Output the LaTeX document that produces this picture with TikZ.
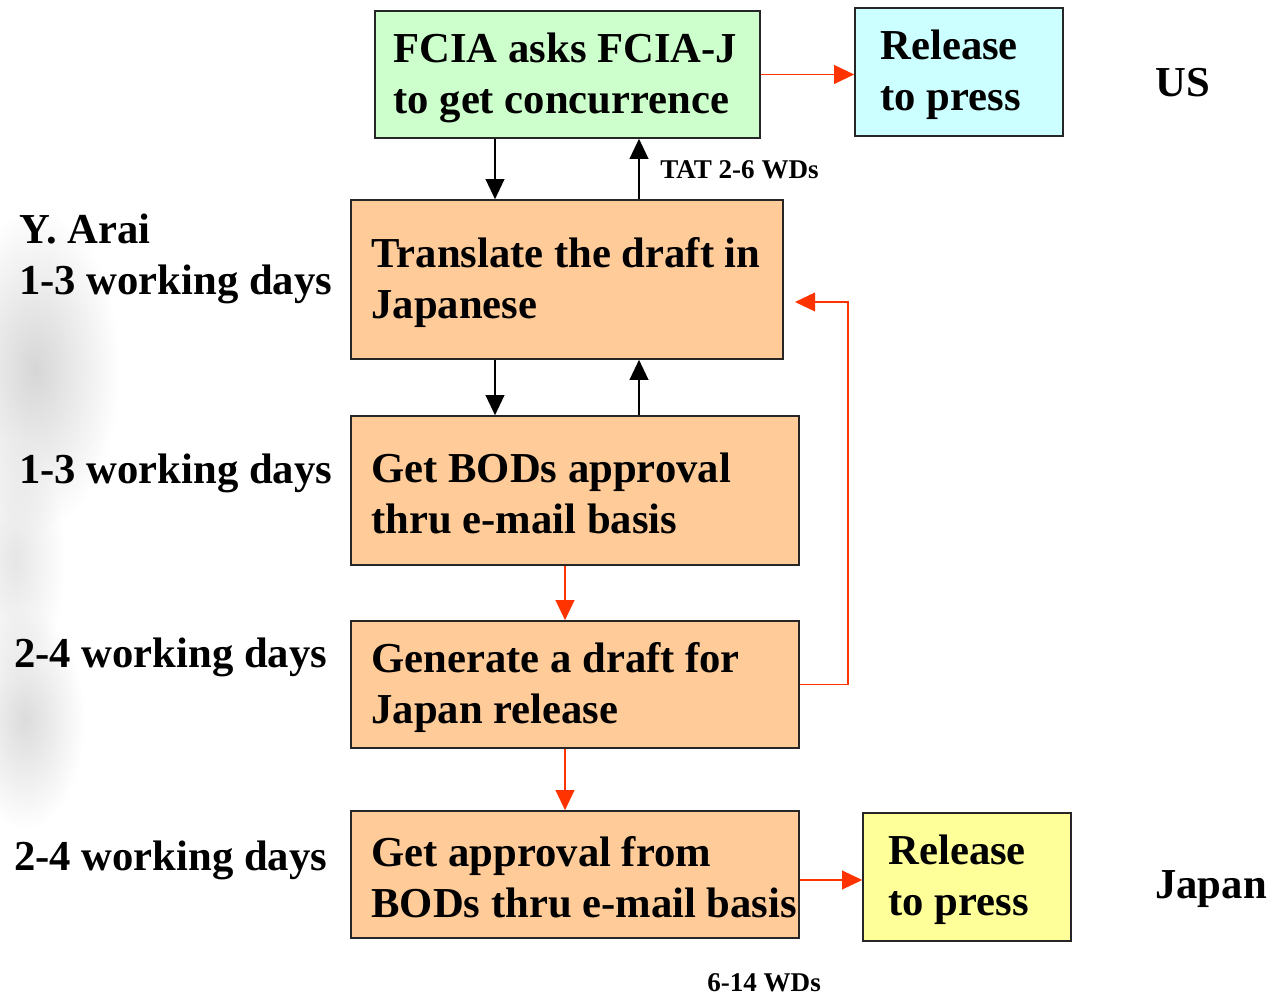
\documentclass[tikz,border=0pt]{standalone}
\usepackage{fontspec}
\setmainfont{Liberation Serif}
\usepackage{xcolor}
\usetikzlibrary{arrows.meta,fadings}

\definecolor{boxgreen}{HTML}{CCFFCC}
\definecolor{boxcyan}{HTML}{CCFFFF}
\definecolor{boxorange}{HTML}{FFCC99}
\definecolor{boxyellow}{HTML}{FFFF99}
\definecolor{flowred}{HTML}{FF3300}

\tikzfading[name=softblob,inner color=transparent!0,outer color=transparent!100]

\begin{document}
\begin{tikzpicture}[x=0.75pt,y=-0.75pt]
\tikzset{every node/.style={font=\bfseries\fontsize{32}{38.25}\selectfont}}
\tikzset{stepbox/.style={draw=black!85,line width=1.2pt,fill=#1,inner sep=0pt}}
\tikzset{boxtext/.style={anchor=west,align=left,inner xsep=15.75pt,inner ysep=0pt,yshift=-2.25pt}}
\tikzset{sidetext/.style={anchor=west,align=left,inner sep=0pt,yshift=-2.25pt}}
\tikzset{smalltext/.style={anchor=west,inner sep=0pt,font=\bfseries\fontsize{20.3}{23}\selectfont}}
\tikzset{blackarrow/.style={line width=1.2pt,-{Triangle[length=15pt,width=14pt]}}}
\tikzset{redarrow/.style={line width=1.2pt,draw=flowred,-{Triangle[length=15pt,width=14pt]},flowred}}
\tikzset{smudge/.style={fill=gray!80,opacity=#1,path fading=softblob}}

\useasboundingbox (0,0) rectangle (1274,998);

% grey smudge at the left edge
\fill[smudge=.4] (35,370) ellipse (85 and 160);
\fill[smudge=.25] (15,560) ellipse (50 and 120);
\fill[smudge=.35] (25,720) ellipse (60 and 110);

% boxes
\node[stepbox=boxgreen,minimum width=288.75pt,minimum height=95.25pt] (fcia) at (567.5,74.5) {};
\node[boxtext] (fcia-t) at ([xshift=-1.5pt]fcia.west) {FCIA asks FCIA-J\\to get concurrence};

\node[stepbox=boxcyan,minimum width=156pt,minimum height=96pt] (relus) at (959,72) {};
\node[boxtext] (relus-t) at ([xshift=3.75pt]relus.west) {Release\\to press};

\node[stepbox=boxorange,minimum width=324pt,minimum height=119.25pt] (trans) at (567,279.5) {};
\node[boxtext] (trans-t) at (trans.west) {Translate the draft in\\Japanese};

\node[stepbox=boxorange,minimum width=336pt,minimum height=111.75pt] (bods) at (575,490.5) {};
\node[boxtext] (bods-t) at (bods.west) {Get BODs approval\\thru e-mail basis};

\node[stepbox=boxorange,minimum width=336pt,minimum height=95.25pt] (gen) at (575,684.5) {};
\node[boxtext] (gen-t) at (gen.west) {Generate a draft for\\Japan release};

\node[stepbox=boxorange,minimum width=336pt,minimum height=95.25pt] (appr) at (575,874.5) {};
\node[boxtext] (appr-t) at (appr.west) {Get approval from\\BODs thru e-mail basis};

\node[stepbox=boxyellow,minimum width=156pt,minimum height=96pt] (relj) at (967,877) {};
\node[boxtext] (relj-t) at ([xshift=3.75pt]relj.west) {Release\\to press};

% texts beside the boxes
\node[sidetext] (arai) at (19,256) {Y. Arai\\1-3 working days};
\node[sidetext] (days-b) at (19,470) {1-3 working days};
\node[sidetext] (days-g) at (14,654) {2-4 working days};
\node[sidetext] (days-a) at (14,857) {2-4 working days};
\node[sidetext] (us) at (1155,80) {US};
\node[sidetext] (japan) at (1155,886) {Japan};
\node[smalltext] (tat) at (660,170) {TAT 2-6 WDs};
\node[smalltext] (total) at (707,983) {6-14 WDs};

% connectors
\draw[blackarrow] (fcia.south -| 495,0) -- (trans.north -| 495,0);
\draw[blackarrow] (trans.north -| 639,0) -- (fcia.south -| 639,0);
\draw[blackarrow] (trans.south -| 495,0) -- (bods.north -| 495,0);
\draw[blackarrow] (bods.north -| 639,0) -- (trans.south -| 639,0);
\draw[redarrow] (fcia.east) -- (fcia.east -| relus.west);
\draw[redarrow] (bods.south -| 565,0) -- (gen.north -| 565,0);
\draw[redarrow] (gen.south -| 565,0) -- (appr.north -| 565,0);
\draw[redarrow] (appr.east |- 0,880) -- (relj.west |- 0,880);
\coordinate (back) at (795,302);
\draw[redarrow] (gen.east) -- ++(48,0) |- (back);

\end{tikzpicture}
\end{document}
